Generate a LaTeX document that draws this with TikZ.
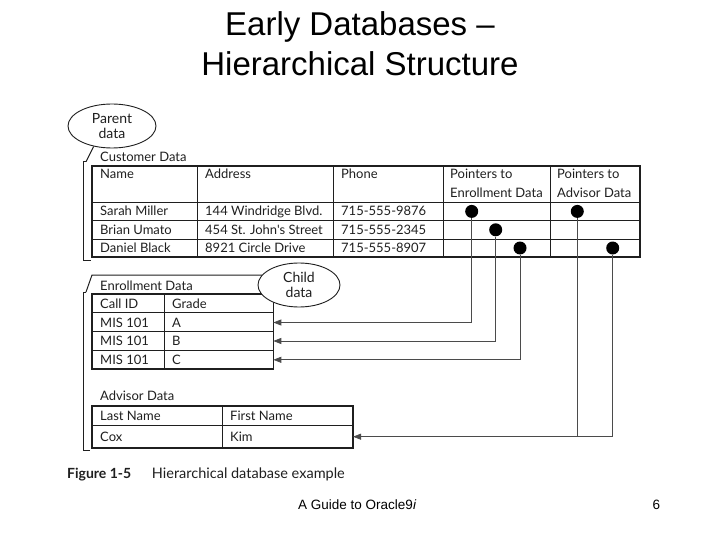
\documentclass[tikz,border=0pt]{standalone}
\usepackage{fontspec}
\setmainfont{Liberation Sans}
\newfontfamily\gill{Lato}
\usetikzlibrary{arrows.meta,shapes.geometric}
\definecolor{ink}{gray}{0.12}
\begin{document}
\begin{tikzpicture}[x=1pt,y=-1pt,
  title/.style={anchor=base, inner sep=0pt, font=\fontsize{33}{40}\selectfont},
  txt/.style={anchor=base west, inner sep=0pt, text=ink, font=\gill\fontsize{13}{15}\selectfont},
  tbl/.style={draw=ink, line width=1.6pt, inner sep=0pt},
  grid/.style={draw=ink, line width=0.9pt},
  dot/.style={circle, fill=black, inner sep=0pt, minimum size=13pt},
  conn/.style={draw=ink!80, line width=0.8pt},
  arr/.style={conn, -{Triangle[length=8pt,width=6pt]}},
  brk/.style={draw=ink, line width=1pt},
  call/.style={ellipse, draw=ink, line width=0.9pt, fill=white, inner sep=0pt, align=center, text=ink, font=\gill\fontsize{14}{15}\selectfont}
]
\useasboundingbox (0,0) rectangle (720,540);

% title
\node[title] (t1) at (360,36) {Early Databases –};
\node[title] (t2) at (360,76) {Hierarchical Structure};

% ---------- Customer table ----------
\node[txt] (custlbl) at (100,162) {Customer Data};
\node[tbl, minimum width=548pt, minimum height=91pt] (cust) at (366,211.5) {};
\draw[grid] (92,202) -- (640,202) (92,220.5) -- (640,220.5) (92,239) -- (640,239);
\draw[grid] (197,166) -- (197,257) (333,166) -- (333,257) (443,166) -- (443,257) (550,166) -- (550,257);
\node[txt] (h1) at (100,179) {Name};
\node[txt] (h2) at (205,179) {Address};
\node[txt] (h3) at (341,179) {Phone};
\node[txt] (h4) at (450,179) {Pointers to};
\node[txt] (h4b) at (450,197) {Enrollment Data};
\node[txt] (h5) at (557,179) {Pointers to};
\node[txt] (h5b) at (557,197) {Advisor Data};
\node[txt] (r11) at (100,215.5) {Sarah Miller};
\node[txt] (r12) at (205,215.5) {144 Windridge Blvd.};
\node[txt] (r13) at (341,215.5) {715-555-9876};
\node[txt] (r21) at (100,234) {Brian Umato};
\node[txt] (r22) at (205,234) {454 St. John's Street};
\node[txt] (r23) at (341,234) {715-555-2345};
\node[txt] (r31) at (100,252.5) {Daniel Black};
\node[txt] (r32) at (205,252.5) {8921 Circle Drive};
\node[txt] (r33) at (341,252.5) {715-555-8907};

% ---------- Enrollment table ----------
\node[txt] (enrlbl) at (100,290.5) {Enrollment Data};
\node[tbl, minimum width=181.3pt, minimum height=75pt] (enr) at (182.65,331.5) {};
\draw[grid] (92,312.7) -- (273.3,312.7) (92,331.3) -- (273.3,331.3) (92,350) -- (273.3,350);
\draw[grid] (164,294) -- (164,369);
\node[txt] (e0a) at (100,308) {Call ID};
\node[txt] (e0b) at (172,308) {Grade};
\node[txt] (e1a) at (100,327) {MIS 101};
\node[txt] (e1b) at (172,327) {A};
\node[txt] (e2a) at (100,345.5) {MIS 101};
\node[txt] (e2b) at (172,345.5) {B};
\node[txt] (e3a) at (100,364.5) {MIS 101};
\node[txt] (e3b) at (172,364.5) {C};

% ---------- Advisor table ----------
\node[txt] (advlbl) at (100,400.5) {Advisor Data};
\node[tbl, minimum width=261pt, minimum height=42pt] (adv) at (222.5,427) {};
\draw[grid] (92,425) -- (353,425) (222,406) -- (222,448);
\node[txt] (a0a) at (100,420) {Last Name};
\node[txt] (a0b) at (230,420) {First Name};
\node[txt] (a1a) at (100,441) {Cox};
\node[txt] (a1b) at (230,441) {Kim};

% ---------- pointers ----------
\node[dot] (d1) at (471.7,211.4) {};
\node[dot] (d2) at (495.7,229.8) {};
\node[dot] (d3) at (520,248) {};
\node[dot] (p1) at (577.3,211.4) {};
\node[dot] (p3) at (612.7,248) {};
\coordinate (eA) at (273.3,322.5);
\coordinate (eB) at (273.3,341);
\coordinate (eC) at (273.3,359.8);
\coordinate (aK) at (353,436.7);
\draw[arr] (d1) |- (eA);
\draw[arr] (d2) |- (eB);
\draw[arr] (d3) |- (eC);
\draw[arr] (p3) |- (aK);
\draw[conn] (p1) -- (p1 |- aK);

% ---------- brackets and callouts ----------
\draw[brk] (86,161.7) -- (83,161.7) -- (83,260.5) -- (91,260.5);
\draw[brk] (86,292) -- (83,292) -- (83,450.7) -- (90,450.7);
\coordinate (pb) at (86,161.7);
\coordinate (cb) at (86,292);
\coordinate (ck) at (92,275);
\node[call, minimum width=88pt, minimum height=44pt] (par) at (112,126) {Parent\\data};
\node[call, minimum width=82pt, minimum height=44pt] (chi) at (299,285) {Child\\data};
\draw[brk] (pb) -- (par.228);
\draw[brk] (cb) -- (ck) -- (chi.165);

% ---------- caption and footer ----------
\node[anchor=base west, inner sep=0pt, text=ink, font=\gill\bfseries\fontsize{14}{16}\selectfont] (fig) at (67,478) {Figure 1-5};
\node[anchor=base west, inner sep=0pt, text=ink, font=\gill\fontsize{14.5}{16}\selectfont] (cap) at (151.7,478) {Hierarchical database example};
\node[anchor=base west, inner sep=0pt, font=\fontsize{13.5}{16}\selectfont] (foot) at (298,509) {A Guide to Oracle9\textit{i}};
\node[anchor=base west, inner sep=0pt, font=\fontsize{13.5}{16}\selectfont] (pg) at (652.5,509) {6};
\end{tikzpicture}
\end{document}
